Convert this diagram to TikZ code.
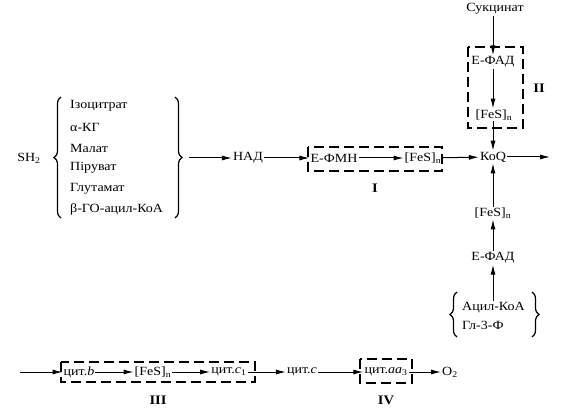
\documentclass[tikz,border=0pt]{standalone}
\usepackage{fontspec}
\setmainfont[FakeStretch=1.12]{Liberation Serif}
\usetikzlibrary{arrows.meta,decorations.pathreplacing}
\begin{document}
\begin{tikzpicture}[x=1pt,y=-1pt,
  txt/.style={inner sep=1pt,font=\fontsize{12.5}{14}\selectfont},
  lbl/.style={inner sep=1pt,font=\fontsize{13}{14}\selectfont\bfseries},
  arr/.style={-{Latex[length=10pt,width=5pt]},line width=1pt},
  dbox/.style={draw,line width=1.5pt,dash pattern=on 10pt off 5pt},
  brc/.style={decorate,decoration={brace,amplitude=7pt},line width=1.2pt}]
\useasboundingbox (0,0) rectangle (571,409);
% left group
\node[txt] (sh) at (29,158) {SH\textsubscript{2}};
\node[txt,anchor=west] (i1) at (69,106) {Ізоцитрат};
\node[txt,anchor=west] (i2) at (69,127) {α-КГ};
\node[txt,anchor=west] (i3) at (69,148) {Малат};
\node[txt,anchor=west] (i4) at (69,168) {Піруват};
\node[txt,anchor=west] (i5) at (69,189) {Глутамат};
\node[txt,anchor=west] (i6) at (69,209) {β-ГО-ацил-КоА};
\draw[brc] (61,218) -- (61,97);
\draw[brc] (175,97) -- (175,218);
\coordinate (rb) at (189,158);
% top row
\node[txt] (nad) at (248,158) {НАД};
\node[txt] (efmn) at (334,158) {Е-ФМН};
\node[txt] (fes1) at (423,158) {[FeS]\textsubscript{n}};
\node[txt] (koq) at (493,157) {КоQ};
\coordinate (out) at (550,157);
\draw[dbox] (308,147) rectangle (442,171);
\node[lbl] (l1) at (375,188) {I};
\draw[arr] (rb) -- (nad);
\draw[arr] (nad) -- (efmn);
\draw[arr] (efmn) -- (fes1);
\draw[arr] (fes1) -- (koq);
\draw[arr] (koq) -- (out);
% complex II
\node[txt] (suk) at (495,9) {Сукцинат};
\node[txt] (efad1) at (493,62) {Е-ФАД};
\node[txt] (fes2) at (494,115) {[FeS]\textsubscript{n}};
\draw[dbox] (468,47) rectangle (523,128);
\node[lbl] (l2) at (539,88) {II};
\draw[arr] (suk.south -| efad1) -- (efad1);
\draw[arr] (efad1) -- (fes2.north -| efad1);
\draw[arr] (fes2.south -| koq) -- (koq);
% lower branch
\node[txt] (fes3) at (493,213) {[FeS]\textsubscript{n}};
\node[txt] (efad2) at (493,258) {Е-ФАД};
\node[txt,anchor=west] (acyl) at (461,308) {Ацил-КоА};
\node[txt,anchor=west] (gl) at (461,325) {Гл-3-Ф};
\draw[brc] (457,337) -- (457,292);
\draw[brc] (532,292) -- (532,337);
\coordinate (ab) at (493,301);
\draw[arr] (ab) -- (efad2);
\draw[arr] (efad2) -- (fes3);
\draw[arr] (fes3) -- (koq);
% bottom row
\coordinate (st) at (20,372);
\node[txt] (cb) at (79,372) {цит.\textit{b}};
\node[txt] (fes4) at (153,372) {[FeS]\textsubscript{n}};
\node[txt] (cc1) at (229,372) {цит.\textit{c}\textsubscript{1}};
\node[txt] (cc) at (302,372) {цит.\textit{c}};
\node[txt] (caa) at (386,372) {цит.\textit{aa}\textsubscript{3}};
\node[txt] (o2) at (450,372) {O\textsubscript{2}};
\draw[dbox] (61,362) rectangle (255,382);
\draw[dbox] (360,359) rectangle (412,383);
\node[lbl] (l3) at (158,400) {III};
\node[lbl] (l4) at (386,400) {IV};
\draw[arr] (st) -- (cb);
\draw[arr] (cb) -- (fes4);
\draw[arr] (fes4) -- (cc1);
\draw[arr] (cc1) -- (cc);
\draw[arr] (cc) -- (caa);
\draw[arr] (caa) -- (o2);
\end{tikzpicture}
\end{document}
